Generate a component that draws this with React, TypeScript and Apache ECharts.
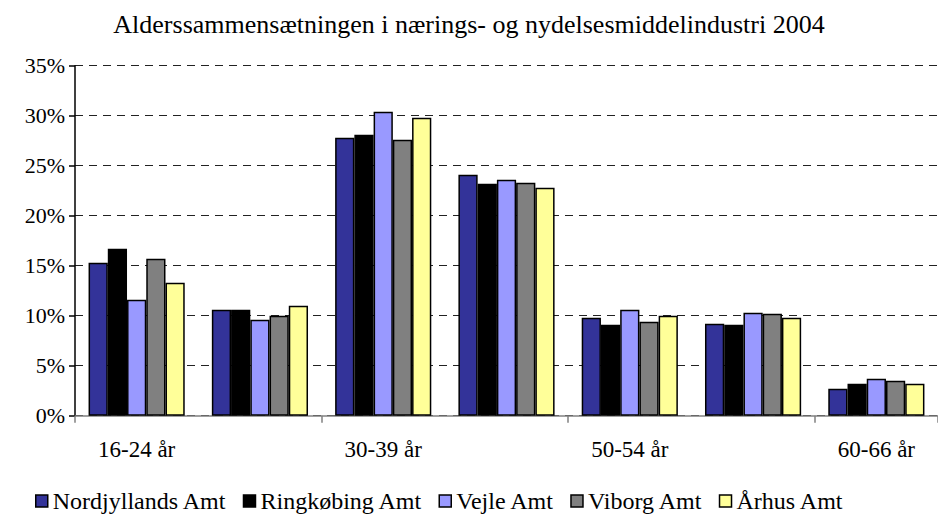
import React, { useEffect, useRef } from "react";
import * as echarts from "echarts";

const titleText = "Alderssammensætningen i nærings- og nydelsesmiddelindustri 2004";
const categories = ["16-24 år", "25-29 år", "30-39 år", "40-49 år", "50-54 år", "55-59 år", "60-66 år"];
const nordjylland = [15.3, 10.6, 27.8, 24.1, 9.8, 9.2, 2.7];
const ringkobing = [16.7, 10.6, 28.1, 23.2, 9.1, 9.1, 3.2];
const vejle = [11.6, 9.6, 30.4, 23.6, 10.6, 10.3, 3.7];
const viborg = [15.7, 10.0, 27.6, 23.3, 9.4, 10.2, 3.5];
const aarhus = [13.3, 11.0, 29.8, 22.8, 10.0, 9.8, 3.2];
const seriesNames = ["Nordjyllands Amt", "Ringkøbing Amt", "Vejle Amt", "Viborg Amt", "Århus Amt"];
const seriesColors = ["#333399", "#000000", "#9999FF", "#808080", "#FFFF99"];
const yTicks = { min: 0, max: 35, interval: 5 };

const FONT = "Liberation Serif";

export default function App() {
  const ref = useRef<HTMLDivElement>(null);
  useEffect(() => {
    if (!ref.current) return;
    const chart = echarts.init(ref.current, null, { renderer: "svg" });
    const data = [nordjylland, ringkobing, vejle, viborg, aarhus];
    const rs = (size: number) => ({
      fontFamily: FONT,
      fontSize: size,
      fontWeight: "normal",
      color: "#000",
    });
    chart.setOption({
      animation: false,
      backgroundColor: "#ffffff",
      title: {
        text: titleText,
        left: "center",
        top: 6,
        textStyle: { fontFamily: FONT, fontSize: 26, fontWeight: "normal", color: "#000" },
      },
      legend: {
        top: 484,
        left: 30,
        itemWidth: 12,
        itemHeight: 12,
        itemGap: 16,
        icon: "rect",
        formatter: (name: string) => "{t|" + name + "}",
        textStyle: { ...rs(24), rich: { t: rs(24) } },
        data: seriesNames.map((n) => ({ name: n, itemStyle: { borderColor: "#000", borderWidth: 1.5 } })),
      },
      grid: { left: 75, right: -9, top: 65.7, bottom: 98.3, containLabel: false },
      xAxis: {
        type: "category",
        data: categories,
        axisLine: { lineStyle: { color: "#808080", width: 1.5 } },
        axisTick: { show: true, length: 7, lineStyle: { color: "#808080", width: 1.5 } },
        axisLabel: {
          ...rs(23),
          margin: 22,
          formatter: (v: string) => "{t|" + v + "}",
          rich: { t: rs(23) },
        },
      },
      yAxis: {
        type: "value",
        min: yTicks.min,
        max: yTicks.max,
        interval: yTicks.interval,
        axisLine: { show: true, lineStyle: { color: "#000", width: 1.5 } },
        axisTick: { show: true, length: 6, lineStyle: { color: "#000", width: 1.5 } },
        axisLabel: {
          ...rs(22),
          margin: 10,
          formatter: (v: number) => "{t|" + v + "%}",
          rich: { t: rs(22) },
        },
        splitLine: { show: true, lineStyle: { color: "#222", type: [8, 6], width: 1.2 } },
      },
      series: seriesNames.map((name, i) => ({
        name,
        type: "bar",
        data: data[i],
        barGap: "0%",
        barCategoryGap: "22%",
        itemStyle: { color: seriesColors[i], borderColor: "#000", borderWidth: 1.5 },
      })),
    });
    return () => chart.dispose();
  }, []);
  return (
    <div
      ref={ref}
      style={{ position: "fixed", left: 0, top: 0, width: 938, height: 514, background: "#fff" }}
    />
  );
}
